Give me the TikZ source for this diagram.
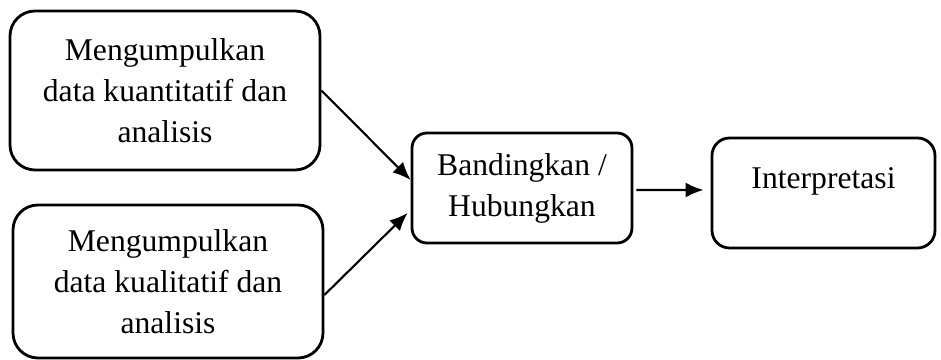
\documentclass[tikz,border=0pt]{standalone}
\usepackage{fontspec}
\setmainfont{Liberation Serif}
\usetikzlibrary{arrows.meta}

\begin{document}
\begin{tikzpicture}[thick, box node/.style={rectangle, draw, line width=1.6pt, rounded corners=.5cm, align=center, font=\fontsize{18}{23.3}\selectfont},
    link/.style={-{Latex[length=.36cm, width=.3cm]}, line width=1.2pt}]
\useasboundingbox (0,0) rectangle (18.82,7.2);
\node[box node, minimum width=6.2cm, minimum height=3.18cm] (quan) at (3.30,5.39) {Mengumpulkan\\data kuantitatif dan\\analisis};
\node[box node, minimum width=6.2cm, minimum height=3.06cm] (qual) at (3.36,1.57) {Mengumpulkan\\data kualitatif dan\\analisis};
\node[box node, rounded corners=.3cm, minimum width=4.4cm, minimum height=2.2cm] (comp) at (10.44,3.44) {Bandingkan /\\Hubungkan};
\node[box node, rounded corners=.35cm, minimum width=4.46cm, minimum height=2.2cm, text depth=.6cm] (interp) at (16.47,3.34) {Interpretasi};
\draw[link] (quan.east) -- ([yshift=.16cm]comp.west);
\draw[link] ([yshift=-.27cm]qual.east) -- ([yshift=-.5cm, xshift=-.06cm]comp.west);
\draw[link, shorten <=.06cm, shorten >=.14cm] ([yshift=-.04cm]comp.east) -- ([yshift=.06cm]interp.west);
\end{tikzpicture}
\end{document}
